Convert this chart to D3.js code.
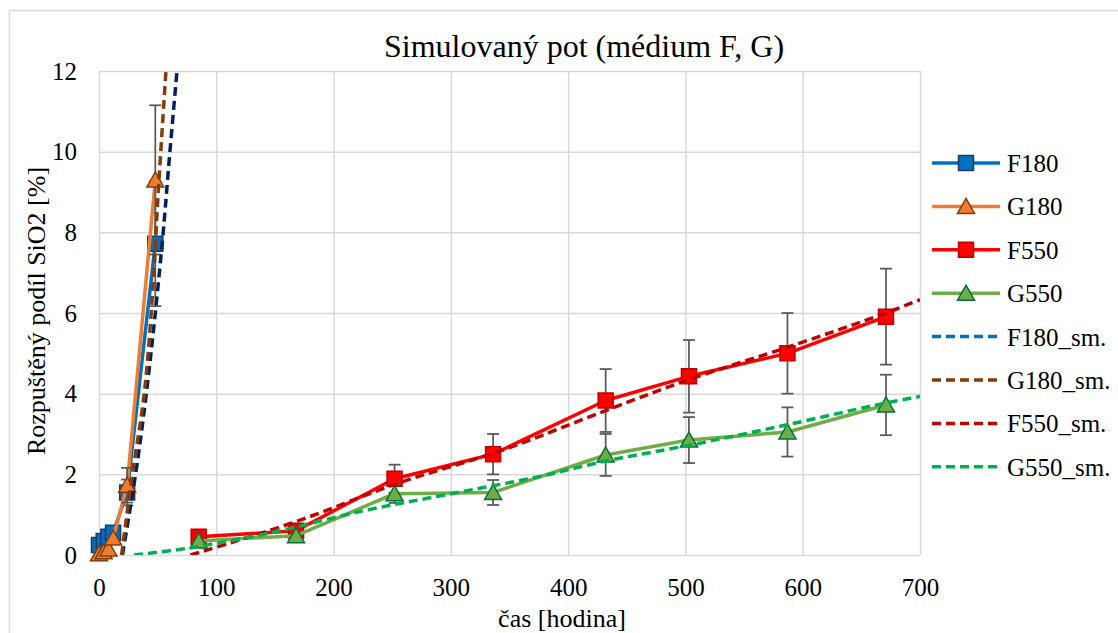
<!DOCTYPE html>
<html>
  <head>
    <meta charset="utf-8">
    <title>Simulovaný pot</title>
    <script src="https://cdn.jsdelivr.net/npm/d3@7"></script>
    <style>
      body { margin: 0; background: #fff; }
      .grid line { stroke: #d9d9d9; stroke-width: 1.5; }
      .grid path { display: none; }
    </style>
  </head>
  <body>
    <svg id="chart" width="1118" height="633"></svg>
    <script>
      // measured data (hours / % SiO2)
      const f180Time = [0, 4, 8, 12, 24, 48];
      const f180Vals = [0.25, 0.35, 0.45, 0.55, 1.55, 7.72];
      const f180Err = [0, 0, 0, 0, 0.32, 1.55];

      const g180Time = [0, 4, 8, 12, 24, 48];
      const g180Vals = [0.03, 0.08, 0.15, 0.42, 1.73, 9.3];
      const g180Err = [0, 0, 0, 0, 0.43, 1.85];

      const f550Time = [85, 168, 252, 336, 432, 503, 587, 671];
      const f550Vals = [0.45, 0.6, 1.89, 2.5, 3.83, 4.43, 5.0, 5.91];
      const f550Err = [0, 0, 0.35, 0.5, 0.78, 0.9, 1.0, 1.19];

      const g550Time = [85, 168, 252, 336, 432, 503, 587, 671];
      const g550Vals = [0.35, 0.48, 1.52, 1.55, 2.48, 2.85, 3.05, 3.72];
      const g550Err = [0, 0, 0.23, 0.31, 0.52, 0.57, 0.61, 0.75];

      // smoothed curves
      const f180SmTime = [20, 33, 43.7, 54.2, 59.9, 66.5];
      const f180SmVals = [0, 2.36, 4.84, 7.83, 9.81, 12];
      const g180SmTime = [19.3, 27.3, 38.6, 45.7, 50.5, 57.1];
      const g180SmVals = [0, 1.78, 4.02, 6.5, 8.99, 12];
      const f550SmTime = [78, 112, 172, 257, 342, 432, 503, 587, 671, 700];
      const f550SmVals = [0, 0.3, 0.87, 1.8, 2.58, 3.58, 4.35, 5.15, 6.0, 6.33];
      const g550SmTime = [30, 76, 146, 226, 297, 376, 432, 503, 587, 671, 700];
      const g550SmVals = [0, 0.17, 0.55, 1.1, 1.5, 1.95, 2.33, 2.72, 3.23, 3.77, 3.93];

      const xTicks = [0, 100, 200, 300, 400, 500, 600, 700];
      const yTicks = [0, 2, 4, 6, 8, 10, 12];

      const svg = d3.select("#chart");

      // outer chart frame (only top and left edges are in view)
      svg.append("path")
        .attr("d", "M9.5,633 V10.5 H1118")
        .attr("fill", "none")
        .attr("stroke", "#d9d9d9")
        .attr("stroke-width", 1.5);

      const x = d3.scaleLinear().domain([0, 700]).range([99, 920]);
      const y = d3.scaleLinear().domain([0, 12]).range([555, 71]);

      svg.append("g")
        .attr("class", "grid")
        .attr("transform", "translate(0,555)")
        .call(d3.axisBottom(x).tickValues(xTicks).tickSize(-(555 - 71)).tickPadding(23))
        .call((g) => g.selectAll("text").attr("font-size", 25));

      svg.append("g")
        .attr("class", "grid")
        .attr("transform", "translate(99,0)")
        .call(d3.axisLeft(y).tickValues(yTicks).tickSize(-(920 - 99)).tickPadding(22))
        .call((g) => g.selectAll("text").attr("font-size", 25));

      svg.append("clipPath").attr("id", "plot")
        .append("rect").attr("x", 99).attr("y", 71).attr("width", 821).attr("height", 484);

      // titles
      svg.append("text").attr("x", 584).attr("y", 57).attr("text-anchor", "middle")
        .attr("font-size", 32).text("Simulovaný pot (médium F, G)");
      svg.append("text").attr("x", 562).attr("y", 627).attr("text-anchor", "middle")
        .attr("font-size", 26).text("čas [hodina]");
      svg.append("text").attr("transform", "translate(45,311) rotate(-90)").attr("text-anchor", "middle")
        .attr("font-size", 26).text("Rozpuštěný podíl SiO2 [%]");

      const series = [
        { name: "F180", t: f180Time, v: f180Vals, e: f180Err, line: "#0070c0", fill: "#0070c0", edge: "#1f3864", shape: "square" },
        { name: "G180", t: g180Time, v: g180Vals, e: g180Err, line: "#ed7d31", fill: "#ed7d31", edge: "#843c0c", shape: "triangle" },
        { name: "F550", t: f550Time, v: f550Vals, e: f550Err, line: "#ff0000", fill: "#ff0000", edge: "#c00000", shape: "square" },
        { name: "G550", t: g550Time, v: g550Vals, e: g550Err, line: "#70ad47", fill: "#70ad47", edge: "#00703c", shape: "triangle" },
      ];

      const smooth = [
        { name: "F180_sm.", t: f180SmTime, v: f180SmVals, color: "#002060", key: "#0070c0" },
        { name: "G180_sm.", t: g180SmTime, v: g180SmVals, color: "#843c0c", key: "#843c0c" },
        { name: "F550_sm.", t: f550SmTime, v: f550SmVals, color: "#c00000", key: "#c00000" },
        { name: "G550_sm.", t: g550SmTime, v: g550SmVals, color: "#00b050", key: "#00b050" },
      ];

      function markerPath(shape) {
        if (shape === "square") return "M-7.5,-7.5H7.5V7.5H-7.5Z";
        return "M0,-8L8.5,7L-8.5,7Z";
      }

      const line = d3.line().x((d) => x(d[0])).y((d) => y(d[1]));

      series.forEach((s) => {
        const pts = s.t.map((t, i) => [t, s.v[i], s.e[i]]);
        const g = svg.append("g");
        g.append("path").datum(pts).attr("d", line)
          .attr("fill", "none").attr("stroke", s.line).attr("stroke-width", 3.5)
          .attr("stroke-linejoin", "round");

        const eb = g.selectAll(".eb").data(pts.filter((d) => d[2] > 0)).enter().append("g");
        eb.append("line")
          .attr("x1", (d) => x(d[0])).attr("x2", (d) => x(d[0]))
          .attr("y1", (d) => y(d[1] - d[2])).attr("y2", (d) => y(d[1] + d[2]));
        eb.append("line")
          .attr("x1", (d) => x(d[0]) - 6).attr("x2", (d) => x(d[0]) + 6)
          .attr("y1", (d) => y(d[1] + d[2])).attr("y2", (d) => y(d[1] + d[2]));
        eb.append("line")
          .attr("x1", (d) => x(d[0]) - 6).attr("x2", (d) => x(d[0]) + 6)
          .attr("y1", (d) => y(d[1] - d[2])).attr("y2", (d) => y(d[1] - d[2]));
        eb.selectAll("line").attr("stroke", "#595959").attr("stroke-width", 1.75);

        g.selectAll(".mk").data(pts).enter().append("path")
          .attr("d", markerPath(s.shape))
          .attr("transform", (d) => `translate(${x(d[0])},${y(d[1])})`)
          .attr("fill", s.fill).attr("stroke", s.edge).attr("stroke-width", 1.5);
      });

      const curve = d3.line().x((d) => x(d[0])).y((d) => y(d[1])).curve(d3.curveCatmullRom.alpha(0.5));
      smooth.forEach((s) => {
        svg.append("path").datum(s.t.map((t, i) => [t, s.v[i]]))
          .attr("clip-path", "url(#plot)")
          .attr("d", curve)
          .attr("fill", "none").attr("stroke", s.color).attr("stroke-width", 3.5)
          .attr("stroke-dasharray", "9,5");
      });

      // legend
      const legend = svg.append("g");
      const rowY = (i) => 163 + i * 43.4;
      series.forEach((s, i) => {
        legend.append("line").attr("x1", 932).attr("x2", 1000).attr("y1", rowY(i)).attr("y2", rowY(i))
          .attr("stroke", s.line).attr("stroke-width", 3.5);
        legend.append("path").attr("d", markerPath(s.shape))
          .attr("transform", `translate(966,${rowY(i)})`)
          .attr("fill", s.fill).attr("stroke", s.edge).attr("stroke-width", 1.5);
        legend.append("text").attr("x", 1007).attr("y", rowY(i) + 9).attr("font-size", 25).text(s.name);
      });
      smooth.forEach((s, j) => {
        const i = j + 4;
        legend.append("line").attr("x1", 932).attr("x2", 1000).attr("y1", rowY(i)).attr("y2", rowY(i))
          .attr("stroke", s.key).attr("stroke-width", 3.5).attr("stroke-dasharray", "9,5");
        legend.append("text").attr("x", 1007).attr("y", rowY(i) + 9).attr("font-size", 25).text(s.name);
      });

      // serif everywhere, set inline so it beats the axis defaults
      svg.selectAll("text")
        .style("font-family", "'Liberation Serif', 'Times New Roman', serif")
        .style("fill", "#000");
    </script>
  </body>
</html>
